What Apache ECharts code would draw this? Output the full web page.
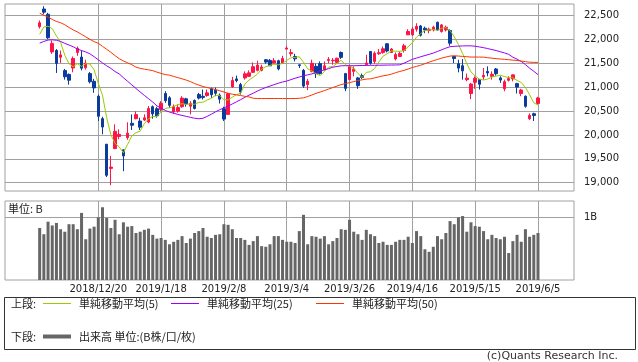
<!DOCTYPE html>
<html><head><meta charset="utf-8">
<script src="https://cdn.jsdelivr.net/npm/echarts@6/dist/echarts.min.js"></script>
<style>html,body{margin:0;padding:0;background:#fff}#c{width:638px;height:362px}</style>
</head><body><div id="c"></div>
<script>
const dates = ['2018/11/30','2018/12/3','2018/12/4','2018/12/5','2018/12/6','2018/12/7','2018/12/10','2018/12/11','2018/12/12','2018/12/13','2018/12/14','2018/12/17','2018/12/18','2018/12/19','2018/12/20','2018/12/21','2018/12/25','2018/12/26','2018/12/27','2018/12/28',
'2019/1/4','2019/1/7','2019/1/8','2019/1/9','2019/1/10','2019/1/11','2019/1/15','2019/1/16','2019/1/17','2019/1/18','2019/1/21','2019/1/22','2019/1/23','2019/1/24','2019/1/25','2019/1/28','2019/1/29','2019/1/30','2019/1/31',
'2019/2/1','2019/2/4','2019/2/5','2019/2/6','2019/2/7','2019/2/8','2019/2/12','2019/2/13','2019/2/14','2019/2/15','2019/2/18','2019/2/19','2019/2/20','2019/2/21','2019/2/22','2019/2/25','2019/2/26','2019/2/27','2019/2/28',
'2019/3/1','2019/3/4','2019/3/5','2019/3/6','2019/3/7','2019/3/8','2019/3/11','2019/3/12','2019/3/13','2019/3/14','2019/3/15','2019/3/18','2019/3/19','2019/3/20','2019/3/22','2019/3/25','2019/3/26','2019/3/27','2019/3/28','2019/3/29',
'2019/4/1','2019/4/2','2019/4/3','2019/4/4','2019/4/5','2019/4/8','2019/4/9','2019/4/10','2019/4/11','2019/4/12','2019/4/15','2019/4/16','2019/4/17','2019/4/18','2019/4/19','2019/4/22','2019/4/23','2019/4/24','2019/4/25','2019/4/26',
'2019/5/7','2019/5/8','2019/5/9','2019/5/10','2019/5/13','2019/5/14','2019/5/15','2019/5/16','2019/5/17','2019/5/20','2019/5/21','2019/5/22','2019/5/23','2019/5/24','2019/5/27','2019/5/28','2019/5/29','2019/5/30','2019/5/31',
'2019/6/3','2019/6/4','2019/6/5'];

const opens = [22270,22640,22530,21740,21770,21630,21350,21270,21404,21729,
21633,21410,21286,21125,20813,20342,19807,19300,19717,19967,
19688,19946,20244,20342,20292,20313,20271,20592,20550,20535,
20869,20779,20481,20500,20592,20758,20604,20723,20848,20810,
20827,20967,20938,20834,20550,20431,21008,21175,21056,21196,
21229,21313,21354,21354,21577,21563,21508,21556,21508,21800,
21702,21646,21470,21354,21056,21333,21438,21494,21369,21563,
21555,21521,21729,21286,21160,21333,21196,21244,21473,21750,
21542,21702,21729,21911,21729,21592,21646,21771,22098,22098,
22217,22285,22237,22188,22202,22362,22167,22202,22188,21646,
21494,21452,21160,20869,21104,21160,21217,21333,21229,21383,
21196,20967,21146,21175,21077,20869,20813,20342,20446,20660];

const closes = [22351,22574,22036,21919,21501,21678,21219,21148,21602,21816,
21400,21506,21115,20987,20392,20166,19155,19327,20077,20014,
19561,20038,20204,20427,20163,20359,20555,20442,20402,20666,
20719,20622,20593,20574,20773,20649,20664,20556,20773,20788,
20883,20844,20874,20751,20333,20864,21144,21139,20900,21281,
21302,21431,21464,21425,21528,21449,21556,21385,21602,21822,
21726,21596,21456,21025,21125,21503,21290,21287,21450,21584,
21566,21608,21627,20977,21428,21378,21033,21205,21509,21505,
21713,21724,21807,21761,21802,21687,21711,21870,22169,22221,
22277,22090,22200,22217,22259,22200,22307,22258,21923,21602,
21402,21344,21191,21067,21188,21062,21250,21301,21272,21283,
21151,21117,21182,21260,21003,20942,20601,20410,20408,20776];

const lows = [22230,22530,22010,21700,21300,21510,21160,21056,21313,21660,
21354,21369,21080,20883,20292,20015,19118,18948,19702,19910,
19241,19900,20104,20327,20104,20292,20244,20342,20362,20500,
20675,20571,20446,20467,20571,20592,20431,20535,20744,20744,
20800,20779,20813,20660,20292,20420,20988,21104,20848,21160,
21217,21300,21333,21333,21494,21452,21494,21354,21494,21790,
21646,21542,21404,20988,20938,21313,21196,21265,21354,21508,
21473,21500,21592,20917,21146,21229,20967,21175,21460,21473,
21494,21681,21702,21729,21717,21563,21633,21729,22098,22077,
22167,22063,22133,22130,22170,22188,22146,22170,21869,21508,
21313,21160,21125,20751,20967,20952,21160,21229,21160,21244,
21092,20917,21120,21125,20869,20813,20571,20313,20292,20640];

const highs = [22400,22698,22560,21980,21800,21770,21385,21290,21646,21854,
21771,21577,21320,21175,20848,20383,19810,19563,20223,20117,
19700,20266,20431,20494,20362,20431,20606,20619,20592,20708,
20917,20813,20640,20640,20813,20779,20708,20744,20883,20952,
20952,20994,20994,20869,20592,20883,21217,21244,21092,21333,
21354,21521,21556,21473,21592,21592,21612,21577,21660,21860,
21800,21702,21473,21383,21175,21577,21494,21542,21542,21633,
21612,21620,21750,21300,21473,21438,21217,21286,21681,21750,
21750,21800,21854,21925,21821,21729,21750,21911,22217,22258,
22342,22306,22271,22250,22290,22375,22327,22290,22217,21650,
21577,21592,21286,21092,21229,21175,21404,21438,21333,21404,
21229,21160,21229,21265,21092,20967,20827,20452,20467,20800];

const volumes = [0.83,0.73,0.93,0.87,0.91,0.81,0.77,0.89,0.89,0.81,
1.07,0.65,0.82,0.85,1.00,1.16,0.99,0.83,0.96,0.73,
0.92,0.85,0.86,0.75,0.77,0.80,0.82,0.72,0.66,0.67,
0.64,0.57,0.61,0.64,0.70,0.59,0.66,0.75,0.78,0.83,
0.69,0.67,0.72,0.73,0.89,0.88,0.81,0.67,0.67,0.64,
0.56,0.62,0.70,0.54,0.53,0.57,0.70,0.70,0.64,0.61,
0.61,0.59,0.78,1.04,0.57,0.70,0.69,0.66,0.70,0.57,
0.62,0.67,0.81,0.80,0.96,0.77,0.73,0.64,0.80,0.73,
0.70,0.59,0.61,0.56,0.56,0.61,0.64,0.64,0.69,0.59,
0.78,0.70,0.49,0.45,0.53,0.70,0.65,0.75,0.94,0.89,
1.00,1.02,0.77,0.92,0.86,0.85,0.78,0.65,0.72,0.67,
0.65,0.69,0.43,0.62,0.72,0.61,0.81,0.69,0.72,0.75];

const ma5 = [22111,22263,22280,22228,22076,21942,21671,21493,21430,21493,
21437,21494,21488,21365,21080,20833,20363,20005,19823,19748,
19627,19803,19979,20049,20079,20238,20342,20389,20384,20485,
20557,20570,20600,20635,20656,20642,20651,20643,20683,20686,
20733,20769,20832,20828,20737,20733,20793,20846,20876,21066,
21153,21211,21276,21381,21430,21459,21484,21469,21504,21563,
21618,21626,21640,21525,21386,21341,21280,21246,21331,21423,
21435,21499,21567,21472,21441,21404,21289,21204,21311,21326,
21393,21531,21652,21702,21761,21756,21754,21766,21848,21932,
22050,22125,22191,22201,22209,22193,22237,22248,22189,22058,
21898,21706,21492,21321,21238,21170,21152,21174,21215,21234,
21251,21225,21201,21199,21143,21101,20998,20843,20673,20627];

const ma25 = [21925,21960,21990,21994,21985,21960,21920,21885,21850,21800,
21770,21740,21702,21640,21577,21510,21450,21395,21330,21280,
21200,21125,21050,20975,20900,20830,20760,20690,20610,20560,
20515,20480,20455,20430,20410,20390,20370,20350,20340,20350,
20390,20435,20485,20530,20570,20605,20650,20695,20740,20790,
20835,20875,20920,20960,20995,21025,21055,21085,21110,21130,
21160,21190,21215,21240,21260,21280,21310,21340,21365,21390,
21420,21435,21450,21452,21452,21452,21454,21456,21458,21460,
21460,21462,21463,21465,21466,21467,21470,21505,21545,21585,
21612,21640,21665,21690,21717,21750,21785,21820,21850,21858,
21862,21866,21869,21868,21860,21845,21830,21810,21790,21770,
21745,21720,21690,21630,21590,21540,21475,21400,21335,21265];

const ma50 = [22550,22510,22473,22421,22379,22352,22310,22254,22202,22160,
22108,22056,22004,21956,21921,21858,21796,21733,21664,21598,
21550,21514,21473,21421,21396,21379,21365,21348,21317,21290,
21265,21254,21227,21202,21177,21150,21119,21077,21046,21015,
20994,20973,20952,20927,20900,20873,20854,20840,20827,20810,
20798,20769,20764,20764,20764,20764,20764,20764,20764,20764,
20764,20764,20769,20779,20806,20838,20873,20900,20931,20962,
20994,21025,21056,21077,21098,21119,21140,21156,21171,21177,
21196,21219,21240,21254,21275,21306,21331,21354,21383,21415,
21437,21462,21494,21525,21556,21583,21612,21633,21654,21660,
21654,21646,21640,21633,21633,21633,21631,21619,21610,21600,
21592,21585,21577,21569,21562,21550,21537,21525,21521,21521];

const tickIndex = [14,29,44,59,74,89,104,119];
const priceTicks = [19000,19500,20000,20500,21000,21500,22000,22500];
const volumeTicks = [1];

const chart = echarts.init(document.getElementById('c'), null, {renderer:'canvas'});
const gridColor = '#a0a0a0';
const numFont = 'DejaVu Sans';
const jaFont = '"Noto Sans CJK JP", sans-serif';
const upColor = '#ff1448', downColor = '#0a3c9c';
const xMin = -8.28, xMax = 127.6;
const fmt = v => String(Math.round(v)).replace(/\B(?=(\d{3})+(?!\d))/g, ',');

const candleData = dates.map((d, i) => [i, opens[i], closes[i], lows[i], highs[i]]);
const pair = arr => arr.map((v, i) => [i, v]);
const split = {show:true, lineStyle:{color:gridColor, width:1}};
const legendText = {fontSize:11, color:'#222', fontFamily:jaFont, padding:[0,0,0,3]};

chart.setOption({
  animation:false,
  backgroundColor:'#fff',
  grid:[
    {left:5, top:4, width:569, height:187, show:true, borderColor:gridColor, borderWidth:1, outerBoundsMode:'none', containLabel:false},
    {left:5, top:201, width:569, height:79, show:true, borderColor:gridColor, borderWidth:1, outerBoundsMode:'none', containLabel:false}
  ],
  xAxis:[
    {type:'value', gridIndex:0, min:xMin, max:xMax, axisLine:{show:false},
     axisTick:{show:false, customValues:tickIndex}, axisLabel:{show:false, customValues:tickIndex}, splitLine:split},
    {type:'value', gridIndex:1, min:xMin, max:xMax, axisLine:{show:false},
     axisTick:{show:false, customValues:tickIndex},
     axisLabel:{show:true, customValues:tickIndex, formatter:v => dates[Math.round(v)], fontSize:10, color:'#222', fontFamily:numFont, margin:4},
     splitLine:split}
  ],
  yAxis:[
    {type:'value', gridIndex:0, position:'right', min:18826, max:22745, axisLine:{show:false},
     axisTick:{show:false, customValues:priceTicks},
     axisLabel:{customValues:priceTicks, formatter:fmt, fontSize:10, color:'#222', fontFamily:numFont, margin:10},
     splitLine:split},
    {type:'value', gridIndex:1, position:'right', min:0, max:1.26, axisLine:{show:false},
     axisTick:{show:false, customValues:volumeTicks},
     axisLabel:{customValues:volumeTicks, formatter:() => '1B', fontSize:10, color:'#222', fontFamily:numFont, margin:10},
     splitLine:split}
  ],
  legend:[
    {left:43, top:298, padding:0, icon:'rect', itemWidth:28, itemHeight:1, selectedMode:false, data:['単純移動平均(5)'], textStyle:legendText},
    {left:171, top:298, padding:0, icon:'rect', itemWidth:28, itemHeight:1, selectedMode:false, data:['単純移動平均(25)'], textStyle:legendText},
    {left:316, top:298, padding:0, icon:'rect', itemWidth:28, itemHeight:1, selectedMode:false, data:['単純移動平均(50)'], textStyle:legendText},
    {left:43, top:331, padding:0, icon:'rect', itemWidth:28, itemHeight:4, selectedMode:false, data:['出来高 単位:(B株/口/枚)'], textStyle:legendText}
  ],
  graphic:[
    {type:'rect', silent:true, shape:{x:4.5, y:297.5, width:631, height:52}, style:{fill:'none', stroke:'#333', lineWidth:1}},
    {type:'text', silent:true, x:11, y:304, style:{text:'上段:', font:'11px ' + jaFont, fill:'#222', verticalAlign:'middle'}},
    {type:'text', silent:true, x:11, y:337, style:{text:'下段:', font:'11px ' + jaFont, fill:'#222', verticalAlign:'middle'}},
    {type:'text', silent:true, x:8, y:209, style:{text:'単位: B', font:'11px ' + jaFont, fill:'#222', verticalAlign:'middle'}},
    {type:'text', silent:true, x:618, y:356, style:{text:'(c)Quants Research Inc.', font:'11px ' + numFont, fill:'#333', align:'right', verticalAlign:'middle'}}
  ],
  series:[
    {name:'日足', type:'candlestick', xAxisIndex:0, yAxisIndex:0, data:candleData,
     encode:{x:0, y:[1,2,3,4]}, barWidth:3,
     itemStyle:{color:upColor, color0:downColor, borderColor:upColor, borderColor0:downColor, borderWidth:1}},
    {name:'単純移動平均(5)', type:'line', xAxisIndex:0, yAxisIndex:0, data:pair(ma5), showSymbol:false, symbol:'none',
     itemStyle:{color:'#99cc00'}, lineStyle:{color:'#99cc00', width:1}, z:3},
    {name:'単純移動平均(25)', type:'line', xAxisIndex:0, yAxisIndex:0, data:pair(ma25), showSymbol:false, symbol:'none',
     itemStyle:{color:'#9900ff'}, lineStyle:{color:'#9900ff', width:1}, z:3},
    {name:'単純移動平均(50)', type:'line', xAxisIndex:0, yAxisIndex:0, data:pair(ma50), showSymbol:false, symbol:'none',
     itemStyle:{color:'#ff3300'}, lineStyle:{color:'#ff3300', width:1}, z:3},
    {name:'出来高 単位:(B株/口/枚)', type:'bar', xAxisIndex:1, yAxisIndex:1, data:pair(volumes), barWidth:3,
     itemStyle:{color:'#666666'}}
  ]
});
</script>
</body></html>
